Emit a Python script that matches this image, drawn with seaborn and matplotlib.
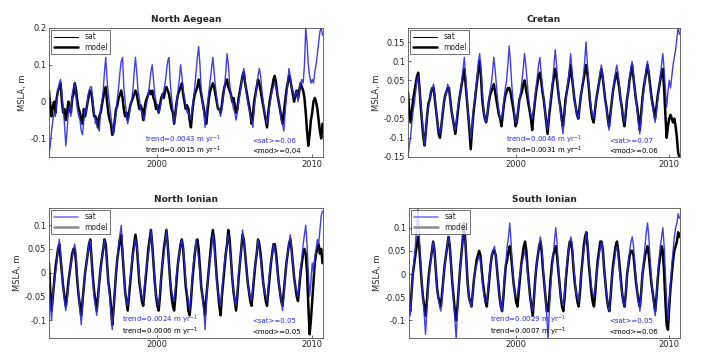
import numpy as np
import pandas as pd
import seaborn as sns
import matplotlib.pyplot as plt
from matplotlib.lines import Line2D
from matplotlib.ticker import FuncFormatter

# monthly values (MSLA, m), Jan 1993 .. Sep 2010
aegean_sat = [
    -0.14, -0.12, -0.08, -0.05, -0.03, -0.04, 0.0, 0.03, 0.05, 0.06, 0.02, -0.02,
    -0.06, -0.12, -0.08, -0.03, -0.01, -0.04, 0.02, 0.04, 0.05, 0.01, -0.02, -0.04,
    -0.05, -0.08, -0.09, -0.05, -0.02, -0.03, 0.01, 0.03, 0.04, 0.04, 0.0, -0.03,
    -0.06, -0.05, -0.07, -0.08, -0.02, 0.0, 0.03, 0.08, 0.12, 0.06, 0.02, -0.01,
    -0.04, -0.07, -0.09, -0.05, -0.03, 0.01, 0.04, 0.08, 0.11, 0.12, 0.04, 0.0,
    -0.03, -0.06, -0.04, -0.01, 0.0, 0.03, 0.08, 0.12, 0.08, 0.03, 0.01, -0.02,
    -0.03, -0.04, -0.05, -0.02, 0.0, 0.02, 0.05, 0.08, 0.10, 0.06, 0.02, 0.0,
    -0.01, -0.03, -0.02, 0.0, 0.02, 0.03, 0.05, 0.08, 0.11, 0.12, 0.05, 0.01,
    -0.02, -0.06, -0.04, 0.0, 0.03, 0.06, 0.10, 0.07, 0.03, 0.01, -0.01, -0.03,
    -0.03, -0.04, -0.05, -0.02, 0.01, 0.04, 0.08, 0.12, 0.15, 0.10, 0.03, 0.0,
    -0.03, -0.07, -0.03, 0.0, 0.03, 0.06, 0.09, 0.12, 0.08, 0.04, 0.01, -0.02,
    -0.02, -0.04, -0.02, 0.01, 0.04, 0.08, 0.13, 0.10, 0.05, 0.02, 0.0, -0.02,
    -0.03, -0.05, -0.03, 0.0, 0.02, 0.05, 0.07, 0.09, 0.06, 0.02, 0.0, -0.02,
    -0.04, -0.05, -0.07, -0.02, 0.01, 0.04, 0.07, 0.09, 0.07, 0.03, 0.0, -0.03,
    -0.04, -0.06, -0.04, -0.01, 0.01, 0.03, 0.04, 0.05, 0.04, 0.02, 0.0, -0.02,
    -0.05, -0.06, -0.08, -0.03, 0.01, 0.05, 0.09, 0.07, 0.04, 0.03, 0.01, 0.02,
    0.03, 0.0, 0.02, 0.05, 0.06, 0.05, 0.10, 0.20, 0.16, 0.10, 0.07, 0.05,
    0.06, 0.05, 0.08, 0.10, 0.13, 0.16, 0.19, 0.20, 0.18,
]
aegean_mod = [
    0.03, -0.02, -0.04, -0.01, 0.0, -0.03, 0.01, 0.03, 0.04, 0.05, 0.0, -0.03,
    -0.02, -0.05, -0.03, 0.0, -0.02, -0.03, 0.01, 0.02, 0.05, 0.03, 0.0, -0.02,
    -0.03, -0.05, -0.06, -0.02, -0.04, -0.02, 0.0, 0.02, 0.03, 0.02, -0.01, -0.04,
    -0.04, -0.05, -0.07, -0.04, -0.03, -0.01, 0.01, 0.03, 0.04, 0.0, -0.03, -0.05,
    -0.06, -0.09, -0.08, -0.05, -0.02, -0.01, 0.01, 0.02, 0.03, 0.01, -0.02, -0.04,
    -0.03, -0.05, -0.03, -0.01, 0.0, 0.01, 0.02, 0.03, 0.02, 0.0, -0.02, -0.01,
    -0.02, -0.05, -0.02, 0.0, 0.01, 0.02, 0.03, 0.02, 0.03, 0.01, 0.0, -0.02,
    -0.01, -0.03, -0.01, 0.01, 0.02, 0.01, 0.03, 0.04, 0.03, 0.02, 0.0, -0.02,
    -0.03, -0.06, -0.03, 0.0, 0.02, 0.03, 0.04, 0.05, 0.02, 0.0, -0.02, -0.01,
    -0.02, -0.05, -0.07, -0.03, 0.0, 0.02, 0.03, 0.04, 0.06, 0.04, 0.02, 0.0,
    -0.02, -0.04, -0.06, -0.02, 0.01, 0.03, 0.04, 0.05, 0.04, 0.02, 0.0, -0.02,
    -0.02, -0.03, -0.01, 0.02, 0.04, 0.05, 0.06, 0.04, 0.03, 0.02, 0.0, 0.01,
    -0.01, -0.03, -0.02, 0.01, 0.03, 0.05, 0.07, 0.08, 0.05, 0.03, 0.01, -0.01,
    -0.03, -0.06, -0.04, 0.0, 0.02, 0.04, 0.06, 0.05, 0.03, 0.01, -0.01, -0.03,
    -0.05, -0.07, -0.03, 0.0, 0.02, 0.04, 0.06, 0.07, 0.05, 0.02, 0.0, -0.02,
    -0.04, -0.06, -0.03, 0.0, 0.03, 0.05, 0.07, 0.06, 0.04, 0.02, 0.0, 0.02,
    0.03, 0.01, 0.03, 0.05, 0.04, 0.03, 0.01, -0.03, -0.08, -0.12, -0.09, -0.05,
    -0.03, 0.0, 0.01, 0.0, -0.02, -0.05, -0.08, -0.10, -0.06,
]
cretan_sat = [
    -0.15, -0.12, -0.10, -0.06, -0.03, -0.01, 0.02, 0.05, 0.06, 0.03, -0.01, -0.05,
    -0.09, -0.12, -0.08, -0.04, -0.02, 0.0, 0.02, 0.03, 0.04, 0.01, -0.03, -0.06,
    -0.08, -0.09, -0.07, -0.03, -0.01, 0.01, 0.02, 0.04, 0.03, 0.0, -0.03, -0.05,
    -0.07, -0.08, -0.05, -0.02, 0.0, 0.02, 0.05, 0.08, 0.11, 0.06, 0.01, -0.04,
    -0.07, -0.10, -0.07, -0.03, 0.0, 0.03, 0.06, 0.10, 0.12, 0.08, 0.02, -0.02,
    -0.05, -0.06, -0.04, -0.01, 0.02, 0.04, 0.07, 0.11, 0.08, 0.04, 0.0, -0.03,
    -0.05, -0.05, -0.03, 0.0, 0.03, 0.05, 0.09, 0.14, 0.10, 0.04, 0.0, -0.03,
    -0.06, -0.06, -0.03, 0.0, 0.02, 0.05, 0.08, 0.12, 0.09, 0.05, 0.01, -0.02,
    -0.04, -0.05, -0.03, 0.0, 0.03, 0.06, 0.09, 0.11, 0.07, 0.03, 0.0, -0.03,
    -0.05, -0.08, -0.04, -0.01, 0.02, 0.05, 0.09, 0.13, 0.09, 0.04, 0.0, -0.03,
    -0.06, -0.09, -0.05, -0.01, 0.02, 0.05, 0.08, 0.12, 0.08, 0.03, 0.0, -0.02,
    -0.04, -0.05, -0.02, 0.01, 0.03, 0.06, 0.10, 0.15, 0.10, 0.05, 0.01, -0.02,
    -0.04, -0.05, -0.03, 0.0, 0.02, 0.04, 0.07, 0.09, 0.06, 0.03, 0.0, -0.02,
    -0.05, -0.08, -0.05, -0.01, 0.02, 0.04, 0.07, 0.09, 0.07, 0.04, 0.0, -0.03,
    -0.04, -0.06, -0.03, 0.0, 0.02, 0.05, 0.08, 0.10, 0.07, 0.03, 0.0, -0.03,
    -0.06, -0.09, -0.05, -0.01, 0.02, 0.05, 0.08, 0.10, 0.07, 0.03, 0.0, -0.02,
    -0.04, -0.06, -0.03, 0.0, 0.03, 0.06, 0.09, 0.12, 0.08, 0.03, -0.02, 0.02,
    0.05, 0.03, 0.06, 0.09, 0.11, 0.13, 0.16, 0.19, 0.17,
]
cretan_mod = [
    0.02, -0.03, -0.06, -0.03, 0.0, 0.02, 0.04, 0.06, 0.07, 0.03, -0.02, -0.06,
    -0.10, -0.12, -0.08, -0.04, -0.01, 0.0, 0.02, 0.03, 0.03, 0.0, -0.03, -0.06,
    -0.09, -0.10, -0.07, -0.04, -0.01, 0.01, 0.02, 0.03, 0.03, 0.0, -0.03, -0.05,
    -0.07, -0.09, -0.06, -0.03, 0.0, 0.02, 0.04, 0.06, 0.08, 0.04, 0.0, -0.04,
    -0.08, -0.13, -0.08, -0.04, -0.01, 0.02, 0.05, 0.08, 0.10, 0.06, 0.0, -0.03,
    -0.05, -0.06, -0.04, -0.01, 0.01, 0.02, 0.03, 0.04, 0.02, 0.0, -0.02, -0.04,
    -0.05, -0.07, -0.04, -0.01, 0.01, 0.02, 0.03, 0.03, 0.02, 0.0, -0.02, -0.04,
    -0.07, -0.06, -0.03, 0.0, 0.01, 0.02, 0.04, 0.05, 0.03, 0.01, -0.01, -0.03,
    -0.05, -0.08, -0.04, -0.01, 0.02, 0.04, 0.06, 0.07, 0.05, 0.02, 0.0, -0.03,
    -0.06, -0.09, -0.05, -0.02, 0.01, 0.04, 0.06, 0.08, 0.06, 0.03, 0.0, -0.02,
    -0.05, -0.07, -0.04, 0.0, 0.02, 0.04, 0.06, 0.09, 0.06, 0.03, 0.0, -0.02,
    -0.04, -0.05, -0.02, 0.01, 0.03, 0.05, 0.07, 0.09, 0.07, 0.04, 0.0, -0.03,
    -0.05, -0.06, -0.03, 0.0, 0.02, 0.04, 0.06, 0.08, 0.06, 0.03, 0.0, -0.02,
    -0.05, -0.07, -0.04, -0.01, 0.02, 0.04, 0.06, 0.07, 0.05, 0.03, 0.0, -0.02,
    -0.05, -0.07, -0.04, 0.0, 0.02, 0.05, 0.07, 0.09, 0.06, 0.03, 0.0, -0.02,
    -0.05, -0.08, -0.04, 0.0, 0.03, 0.05, 0.07, 0.09, 0.07, 0.04, 0.01, -0.01,
    -0.03, -0.05, -0.02, 0.01, 0.03, 0.05, 0.07, 0.08, 0.03, -0.04, -0.10, -0.07,
    -0.05, -0.04, -0.05, -0.06, -0.05, -0.07, -0.10, -0.14, -0.15,
]
nionian_sat = [
    -0.03, -0.07, -0.10, -0.05, -0.02, 0.0, 0.02, 0.05, 0.07, 0.04, 0.0, -0.03,
    -0.06, -0.08, -0.06, -0.03, 0.0, 0.02, 0.03, 0.05, 0.06, 0.03, -0.01, -0.05,
    -0.08, -0.11, -0.07, -0.03, 0.0, 0.02, 0.04, 0.06, 0.07, 0.03, -0.02, -0.05,
    -0.07, -0.09, -0.06, -0.02, 0.01, 0.03, 0.05, 0.07, 0.05, 0.02, -0.02, -0.05,
    -0.08, -0.12, -0.08, -0.04, 0.0, 0.03, 0.06, 0.08, 0.10, 0.05, 0.0, -0.04,
    -0.06, -0.07, -0.04, -0.01, 0.02, 0.04, 0.05, 0.07, 0.06, 0.03, -0.01, -0.04,
    -0.05, -0.06, -0.03, 0.0, 0.02, 0.04, 0.06, 0.09, 0.06, 0.02, -0.02, -0.05,
    -0.06, -0.07, -0.04, -0.01, 0.02, 0.04, 0.06, 0.09, 0.06, 0.02, -0.02, -0.04,
    -0.05, -0.06, -0.03, 0.0, 0.02, 0.04, 0.06, 0.07, 0.05, 0.02, -0.02, -0.04,
    -0.06, -0.08, -0.05, -0.01, 0.02, 0.04, 0.07, 0.05, 0.03, 0.0, -0.03, -0.05,
    -0.08, -0.12, -0.06, -0.02, 0.01, 0.03, 0.05, 0.08, 0.06, 0.02, -0.02, -0.04,
    -0.06, -0.07, -0.04, -0.01, 0.02, 0.04, 0.06, 0.08, 0.06, 0.03, -0.01, -0.04,
    -0.06, -0.07, -0.04, 0.0, 0.02, 0.05, 0.09, 0.07, 0.04, 0.01, -0.02, -0.04,
    -0.05, -0.06, -0.03, 0.0, 0.02, 0.04, 0.07, 0.05, 0.03, 0.0, -0.02, -0.04,
    -0.05, -0.06, -0.03, 0.0, 0.02, 0.04, 0.06, 0.05, 0.03, 0.0, -0.02, -0.04,
    -0.06, -0.08, -0.05, -0.01, 0.02, 0.04, 0.06, 0.08, 0.05, 0.02, -0.01, -0.03,
    -0.04, -0.05, -0.02, 0.01, 0.03, 0.06, 0.08, 0.10, 0.06, 0.0, -0.05, -0.02,
    0.02, 0.0, 0.03, 0.05, 0.07, 0.06, 0.09, 0.12, 0.13,
]
nionian_mod = [
    0.02, -0.04, -0.08, -0.05, -0.02, 0.01, 0.03, 0.05, 0.06, 0.03, 0.0, -0.03,
    -0.05, -0.07, -0.05, -0.02, 0.0, 0.02, 0.04, 0.05, 0.05, 0.02, -0.02, -0.05,
    -0.07, -0.09, -0.06, -0.03, 0.0, 0.02, 0.04, 0.06, 0.07, 0.03, -0.01, -0.04,
    -0.06, -0.08, -0.05, -0.02, 0.01, 0.03, 0.05, 0.07, 0.06, 0.02, -0.02, -0.04,
    -0.07, -0.11, -0.08, -0.04, 0.0, 0.03, 0.05, 0.07, 0.08, 0.04, 0.0, -0.04,
    -0.06, -0.08, -0.05, -0.02, 0.01, 0.04, 0.06, 0.08, 0.06, 0.02, -0.02, -0.04,
    -0.06, -0.07, -0.04, -0.01, 0.02, 0.05, 0.07, 0.09, 0.06, 0.02, -0.02, -0.05,
    -0.07, -0.08, -0.05, -0.01, 0.02, 0.05, 0.07, 0.09, 0.06, 0.02, -0.02, -0.05,
    -0.07, -0.08, -0.05, -0.01, 0.02, 0.04, 0.06, 0.07, 0.05, 0.01, -0.03, -0.05,
    -0.08, -0.09, -0.06, -0.02, 0.01, 0.04, 0.06, 0.07, 0.05, 0.01, -0.03, -0.05,
    -0.07, -0.09, -0.05, -0.02, 0.01, 0.04, 0.07, 0.09, 0.07, 0.03, -0.01, -0.04,
    -0.07, -0.09, -0.05, -0.02, 0.01, 0.04, 0.06, 0.09, 0.07, 0.03, -0.01, -0.04,
    -0.06, -0.08, -0.05, -0.01, 0.02, 0.05, 0.08, 0.07, 0.04, 0.01, -0.02, -0.04,
    -0.06, -0.07, -0.04, -0.01, 0.02, 0.04, 0.07, 0.06, 0.04, 0.01, -0.02, -0.04,
    -0.06, -0.07, -0.04, -0.01, 0.02, 0.04, 0.06, 0.06, 0.04, 0.01, -0.02, -0.04,
    -0.06, -0.07, -0.04, -0.01, 0.02, 0.04, 0.06, 0.07, 0.05, 0.02, -0.01, -0.03,
    -0.05, -0.06, -0.03, 0.0, 0.02, 0.04, 0.05, 0.04, 0.0, -0.07, -0.13, -0.10,
    -0.06, -0.02, 0.02, 0.04, 0.05, 0.06, 0.04, 0.05, 0.02,
]
sionian_sat = [
    -0.08, -0.09, -0.04, 0.0, 0.03, 0.06, 0.10, 0.14, 0.09, 0.03, -0.02, -0.05,
    -0.09, -0.13, -0.08, -0.03, 0.0, 0.03, 0.05, 0.07, 0.05, 0.01, -0.03, -0.05,
    -0.07, -0.08, -0.05, -0.01, 0.02, 0.04, 0.06, 0.08, 0.06, 0.02, -0.02, -0.06,
    -0.10, -0.14, -0.08, -0.03, 0.01, 0.04, 0.07, 0.11, 0.08, 0.03, -0.02, -0.05,
    -0.06, -0.07, -0.04, -0.01, 0.01, 0.02, 0.03, 0.04, 0.03, 0.0, -0.03, -0.05,
    -0.06, -0.06, -0.03, 0.0, 0.02, 0.04, 0.05, 0.06, 0.04, 0.01, -0.02, -0.05,
    -0.07, -0.08, -0.04, 0.0, 0.03, 0.06, 0.08, 0.11, 0.07, 0.02, -0.02, -0.04,
    -0.05, -0.05, -0.02, 0.0, 0.02, 0.03, 0.04, 0.05, 0.03, 0.0, -0.02, -0.05,
    -0.07, -0.08, -0.05, -0.01, 0.02, 0.04, 0.06, 0.08, 0.06, 0.02, -0.02, -0.05,
    -0.09, -0.14, -0.08, -0.03, 0.01, 0.04, 0.07, 0.10, 0.07, 0.02, -0.02, -0.05,
    -0.06, -0.07, -0.04, 0.0, 0.03, 0.05, 0.07, 0.08, 0.06, 0.02, -0.01, -0.04,
    -0.05, -0.06, -0.03, 0.0, 0.03, 0.05, 0.07, 0.09, 0.07, 0.03, 0.0, -0.03,
    -0.04, -0.05, -0.03, 0.0, 0.02, 0.04, 0.06, 0.07, 0.05, 0.01, -0.02, -0.05,
    -0.07, -0.08, -0.05, -0.01, 0.01, 0.03, 0.05, 0.06, 0.04, 0.01, -0.02, -0.04,
    -0.06, -0.07, -0.04, 0.0, 0.03, 0.05, 0.07, 0.08, 0.06, 0.02, -0.01, -0.04,
    -0.06, -0.08, -0.04, 0.0, 0.03, 0.06, 0.09, 0.11, 0.08, 0.03, -0.01, -0.04,
    -0.07, -0.09, -0.05, 0.0, 0.03, 0.06, 0.08, 0.10, 0.06, 0.0, -0.06, -0.10,
    -0.06, -0.02, 0.02, 0.05, 0.08, 0.10, 0.11, 0.13, 0.12,
]
sionian_mod = [
    -0.07, -0.08, -0.04, 0.0, 0.02, 0.04, 0.06, 0.08, 0.06, 0.02, -0.02, -0.05,
    -0.07, -0.09, -0.06, -0.02, 0.01, 0.03, 0.05, 0.07, 0.05, 0.01, -0.03, -0.05,
    -0.06, -0.07, -0.04, -0.01, 0.02, 0.04, 0.06, 0.08, 0.06, 0.02, -0.02, -0.05,
    -0.08, -0.10, -0.07, -0.03, 0.01, 0.04, 0.07, 0.11, 0.08, 0.03, -0.02, -0.05,
    -0.06, -0.07, -0.04, -0.01, 0.01, 0.03, 0.04, 0.05, 0.04, 0.01, -0.02, -0.04,
    -0.06, -0.07, -0.04, -0.01, 0.02, 0.04, 0.05, 0.05, 0.04, 0.01, -0.02, -0.05,
    -0.07, -0.08, -0.05, -0.01, 0.02, 0.03, 0.05, 0.06, 0.04, 0.01, -0.02, -0.04,
    -0.06, -0.07, -0.04, -0.01, 0.02, 0.04, 0.06, 0.07, 0.05, 0.01, -0.02, -0.05,
    -0.07, -0.09, -0.05, -0.01, 0.02, 0.04, 0.06, 0.07, 0.05, 0.01, -0.02, -0.05,
    -0.08, -0.08, -0.05, -0.01, 0.02, 0.04, 0.05, 0.06, 0.04, 0.01, -0.02, -0.05,
    -0.07, -0.08, -0.05, -0.01, 0.02, 0.05, 0.07, 0.07, 0.05, 0.01, -0.02, -0.04,
    -0.06, -0.07, -0.04, 0.0, 0.03, 0.06, 0.08, 0.09, 0.06, 0.02, -0.01, -0.04,
    -0.06, -0.07, -0.04, 0.0, 0.03, 0.05, 0.07, 0.07, 0.05, 0.01, -0.02, -0.05,
    -0.07, -0.08, -0.05, -0.01, 0.02, 0.04, 0.06, 0.07, 0.05, 0.02, -0.01, -0.04,
    -0.06, -0.07, -0.04, 0.0, 0.02, 0.04, 0.05, 0.05, 0.04, 0.01, -0.02, -0.04,
    -0.06, -0.07, -0.04, 0.0, 0.02, 0.04, 0.05, 0.06, 0.04, 0.01, -0.02, -0.04,
    -0.06, -0.08, -0.05, -0.01, 0.02, 0.04, 0.06, 0.05, 0.0, -0.06, -0.11, -0.12,
    -0.07, -0.03, 0.0, 0.03, 0.05, 0.06, 0.07, 0.09, 0.08,
]

titles = ["North Aegean", "Cretan", "North Ionian", "South Ionian"]
trend_sat = ["0.0043", "0.0046", "0.0024", "0.0029"]
trend_mod = ["0.0015", "0.0031", "0.0006", "0.0007"]
mean_sat = ["0.06", "0.07", "0.05", "0.05"]
mean_mod = ["0.04", "0.06", "0.05", "0.06"]

panels = [
    (aegean_sat, aegean_mod, [0.0695, 0.558, 0.3887, 0.3634], (-0.15, 0.2), [-0.1, 0, 0.1, 0.2], 0.35),
    (cretan_sat, cretan_mod, [0.5787, 0.558, 0.3858, 0.3634], (-0.15, 0.187),
     [-0.15, -0.1, -0.05, 0, 0.05, 0.1, 0.15], 0.36),
    (nionian_sat, nionian_mod, [0.0695, 0.049, 0.3887, 0.366], (-0.137, 0.137),
     [-0.1, -0.05, 0, 0.05, 0.1], 0.265),
    (sionian_sat, sionian_mod, [0.5801, 0.049, 0.3844, 0.366], (-0.137, 0.143),
     [-0.1, -0.05, 0, 0.05, 0.1], 0.30),
]

sns.set_style("ticks")
plt.rcParams['font.family'] = ['DejaVu Sans']
fig = plt.figure(figsize=(7.05, 3.55), dpi=100)

sat_color = "#2a2ae0"
for i, (sat, mod, pos, ylim, yt, tx) in enumerate(panels):
    ax = fig.add_axes(pos)
    t = 1993 + np.arange(len(sat)) / 12.0
    df = pd.DataFrame({"time": t, "sat": sat, "model": mod})
    sns.lineplot(data=df, x="time", y="model", ax=ax, color="black", lw=1.8)
    sns.lineplot(data=df, x="time", y="sat", ax=ax, color=sat_color, lw=1.0, alpha=0.9)
    ax.set_xlim(1993.0, 2010.7)
    ax.set_ylim(*ylim)
    ax.set_xticks([2000, 2010])
    ax.set_yticks(yt)
    ax.yaxis.set_major_formatter(FuncFormatter(lambda v, p: "%g" % round(v, 3)))
    ax.tick_params(direction="in", labelsize=6, length=2.5, width=0.5, pad=2)
    for s in ax.spines.values():
        s.set_linewidth(0.6)
        s.set_color("#555555")
    ax.set_xlabel("")
    ax.set_ylabel("MSLA, m", fontsize=6, labelpad=2)
    ax.set_title(titles[i], fontsize=6.5, fontweight="bold", pad=4)

    # legend: top row black lines, bottom row blue/grey lines
    if i < 2:
        handles = [Line2D([], [], color="black", lw=0.8), Line2D([], [], color="black", lw=1.8)]
    else:
        handles = [Line2D([], [], color="#7a7af5", lw=1.2), Line2D([], [], color="#8a8a8a", lw=1.8)]
    leg = ax.legend(handles, ["sat", "model"], loc="upper left", fontsize=5.5, frameon=True,
                    fancybox=False, handlelength=3.2, borderpad=0.3, labelspacing=0.2,
                    borderaxespad=0.3)
    leg.get_frame().set_edgecolor("#333333")
    leg.get_frame().set_linewidth(0.6)

    ax.text(tx, 0.135, "trend=" + trend_sat[i] + " m yr$^{-1}$", transform=ax.transAxes,
            fontsize=5, color=sat_color, va="center")
    ax.text(tx, 0.045, "trend=" + trend_mod[i] + " m yr$^{-1}$", transform=ax.transAxes,
            fontsize=5, color="black", va="center")
    ax.text(0.74, 0.125, "<sat>=" + mean_sat[i], transform=ax.transAxes,
            fontsize=5, color=sat_color, va="center")
    ax.text(0.74, 0.045, "<mod>=" + mean_mod[i], transform=ax.transAxes,
            fontsize=5, color="black", va="center")

fig.savefig("out.png", dpi=100)
